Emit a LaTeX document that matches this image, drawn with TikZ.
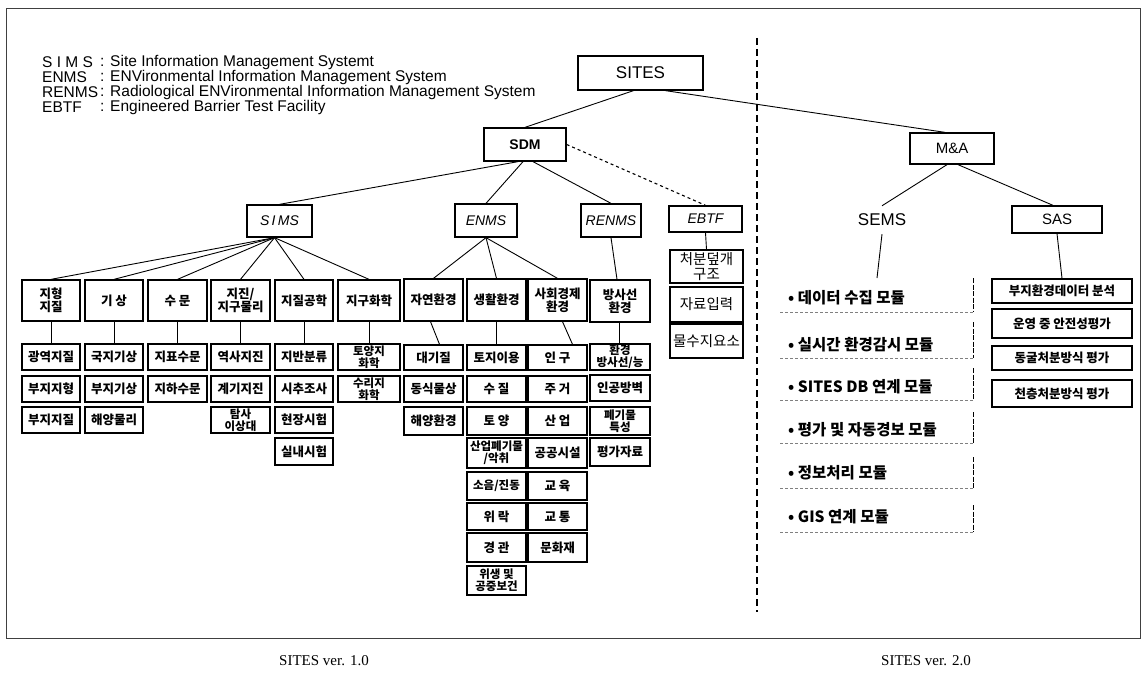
\documentclass[tikz,border=0pt]{standalone}
\usepackage{fontspec}
\setmainfont{Liberation Serif}
\setsansfont{Liberation Sans}
\newfontfamily\kr{Noto Sans CJK KR}
\newfontfamily\ls{Liberation Sans}
\newcommand\mybox[7][]{%
  \pgfmathsetmacro\mbw{#5-#3}%
  \pgfmathsetmacro\mbh{#6-#4}%
  \node[box,minimum width=\mbw pt,minimum height=\mbh pt,#1] (#2) at ({(#3+#5)/2},{(#4+#6)/2}) {#7};}
\begin{document}
\begin{tikzpicture}[x=1pt,y=-1pt,
  box/.style={draw,line width=1.3pt,inner sep=0pt,align=center,font=\kr\bfseries\fontsize{12.5}{13}\selectfont},
  tbox/.style={font=\kr\bfseries\fontsize{11.5}{12}\selectfont},
  lbox/.style={font=\ls\fontsize{15}{17}\selectfont},
  ibox/.style={font=\ls\itshape\fontsize{14}{16}\selectfont},
  rbox/.style={font=\kr\fontsize{14.5}{15}\selectfont},
  link/.style={line width=0.9pt},
  leg/.style={anchor=west,inner sep=0pt,font=\ls\fontsize{15.5}{16}\selectfont},
  item/.style={anchor=west,inner sep=0pt,font=\kr\bfseries\fontsize{15.5}{17}\selectfont},
  ul/.style={black!50,line width=0.7pt,dash pattern=on 3pt off 2pt},
  vl/.style={black,line width=0.8pt,dash pattern=on 5pt off 1.5pt}]
\useasboundingbox (0,0) rectangle (1148,674);
% frame and divider
\draw[line width=0.8pt,black!75] (6,8) rectangle (1140,638);
\draw[line width=1.3pt,dash pattern=on 7pt off 4pt] (757,38) -- (757,612);
% legend
\node[leg] (l1) at (42,62) {S I M S};
\node[leg] (t1) at (100,62) {: Site Information Management Systemt};
\node[leg] (l2) at (42,77) {ENMS};
\node[leg] (t2) at (100,77) {: ENVironmental Information Management System};
\node[leg] (l3) at (42,92) {RENMS};
\node[leg] (t3) at (100,92) {: Radiological ENVironmental Information Management System};
\node[leg] (l4) at (42,107) {EBTF};
\node[leg] (t4) at (100,107) {: Engineered Barrier Test Facility};
% top levels
\mybox[font=\ls\fontsize{17}{19}\selectfont]{sites}{578}{56}{703}{90}{SITES}
\mybox[font=\ls\bfseries\fontsize{14}{16}\selectfont]{sdm}{484}{128}{566}{161}{SDM}
\mybox[ibox]{sims}{247}{205}{312}{237}{S\,I\,MS}
\mybox[ibox]{enms}{455}{204}{517}{237}{ENMS}
\mybox[ibox]{renms}{581}{204}{641}{237}{RENMS}
\mybox[ibox]{ebtf}{669}{206}{742}{232}{EBTF}
\mybox[lbox]{ma}{910}{133}{994}{164}{M\&A}
\node[font=\ls\fontsize{17}{19}\selectfont,inner xsep=2pt,inner ysep=8pt] (sems) at (882,220) {SEMS};
\coordinate (semsend) at (877,278);
\mybox[lbox]{sas}{1012}{206}{1102}{233}{SAS}
% SIMS children
\mybox{s1}{22}{280}{80}{321}{지형\\지질}
\mybox{s2}{85}{280}{143}{321}{기 상}
\mybox{s3}{148}{280}{207}{321}{수 문}
\mybox{s4}{211}{280}{270}{321}{지진/\\지구물리}
\mybox{s5}{275}{280}{333}{321}{지질공학}
\mybox{s6}{338}{280}{400}{321}{지구화학}
\mybox{s1a}{22}{344}{80}{370}{광역지질}
\mybox{s1b}{22}{376}{80}{402}{부지지형}
\mybox{s1c}{22}{407}{80}{433}{부지지질}
\mybox{s2a}{85}{344}{143}{370}{국지기상}
\mybox{s2b}{85}{376}{143}{402}{부지기상}
\mybox{s2c}{85}{407}{143}{433}{해양물리}
\mybox{s3a}{148}{344}{207}{370}{지표수문}
\mybox{s3b}{148}{376}{207}{402}{지하수문}
\mybox{s4a}{211}{344}{270}{370}{역사지진}
\mybox{s4b}{211}{376}{270}{402}{계기지진}
\mybox[tbox]{s4c}{211}{407}{270}{433}{탐사\\이상대}
\mybox{s5a}{275}{344}{333}{370}{지반분류}
\mybox{s5b}{275}{376}{333}{402}{시추조사}
\mybox{s5c}{275}{407}{333}{433}{현장시험}
\mybox{s5d}{275}{438}{333}{465}{실내시험}
\mybox[tbox]{s6a}{338}{344}{400}{370}{토양지\\화학}
\mybox[tbox]{s6b}{338}{376}{400}{402}{수리지\\화학}
% ENMS children
\mybox{e1}{404}{279}{463}{321}{자연환경}
\mybox{e2}{467}{279}{526}{321}{생활환경}
\mybox{e3}{528}{279}{587}{321}{사회경제\\환경}
\mybox{e1a}{404}{345}{463}{370}{대기질}
\mybox{e1b}{404}{376}{463}{402}{동식물상}
\mybox{e1c}{404}{407}{463}{435}{해양환경}
\mybox{e2a}{467}{345}{526}{370}{토지이용}
\mybox{e2b}{467}{376}{526}{402}{수 질}
\mybox{e2c}{467}{407}{526}{435}{토 양}
\mybox[tbox]{e2d}{467}{438}{526}{468}{산업폐기물\\/악취}
\mybox[tbox]{e2e}{467}{472}{526}{500}{소음/진동}
\mybox{e2f}{467}{503}{526}{530}{위 락}
\mybox{e2g}{467}{533}{526}{562}{경 관}
\mybox[tbox]{e2h}{467}{566}{526}{595}{위생 및\\공중보건}
\mybox{e3a}{528}{345}{587}{370}{인 구}
\mybox{e3b}{528}{376}{587}{402}{주 거}
\mybox{e3c}{528}{407}{587}{435}{산 업}
\mybox{e3d}{528}{438}{587}{468}{공공시설}
\mybox{e3e}{528}{472}{587}{500}{교 육}
\mybox{e3f}{528}{503}{587}{530}{교 통}
\mybox{e3g}{528}{533}{587}{562}{문화재}
% RENMS children
\mybox{r0}{590}{280}{650}{322}{방사선\\환경}
\mybox[tbox]{r1}{590}{344}{650}{370}{환경\\방사선/능}
\mybox{r2}{590}{375}{650}{401}{인공방벽}
\mybox[tbox]{r3}{590}{407}{650}{435}{폐기물\\특성}
\mybox{r4}{590}{438}{650}{466}{평가자료}
% EBTF children
\mybox[rbox]{b1}{670}{250}{743}{283}{처분덮개\\구조}
\mybox[rbox]{b2}{670}{287}{743}{322}{자료입력}
\mybox[rbox]{b3}{670}{324}{743}{358}{물수지요소}
% SAS children
\mybox{sas1}{992}{279}{1132}{303}{부지환경데이터 분석}
\mybox{sas2}{992}{309}{1132}{338}{운영 중 안전성평가}
\mybox{sas3}{992}{346}{1132}{370}{동굴처분방식 평가}
\mybox{sas4}{992}{380}{1132}{407}{천층처분방식 평가}
% SEMS modules
\node[item] (m1) at (788,298) {• 데이터 수집 모듈};
\node[item] (m2) at (788,345) {• 실시간 환경감시 모듈};
\node[item] (m3) at (788,387) {• SITES DB 연계 모듈};
\node[item] (m4) at (788,430) {• 평가 및 자동경보 모듈};
\node[item] (m5) at (788,473) {• 정보처리 모듈};
\node[item] (m6) at (788,517) {• GIS 연계 모듈};
\foreach \yu/\yt in {312/278,358/322,400/368,443/412,488/457,532/505}{
  \draw[ul] (780,\yu) -- (973,\yu);
  \draw[vl] (973,\yt) -- (973,\yu);
}
% connectors
\draw[link] ([xshift=-7]sites.south) -- (sdm.north);
\draw[link] ([xshift=25]sites.south) -- ([xshift=-7]ma.north);
\draw[link] ([xshift=-7]sdm.south) -- (sims.north);
\draw[link] ([xshift=-2]sdm.south) -- (enms.north);
\draw[link] ([xshift=8]sdm.south) -- (renms.north);
\draw[link,dashed,line width=1.1pt] (sdm.east) -- (ebtf.north);
\foreach \c in {s1,s2,s3,s4,s5,s6}{\draw[link] ([xshift=-5]sims.south) -- (\c.north);}
\foreach \c in {e1,e2,e3}{\draw[link] (enms.south) -- (\c.north);}
\draw[link] (renms.south) -- ([xshift=-3]r0.north);
\draw[link] (ebtf.south) -- (b1.north);
\draw[link] ([xshift=-5]ma.south) -- (sems.north);
\draw[link] ([xshift=6]ma.south) -- ([xshift=-4]sas.north);
\draw[link] (sems.south) -- (semsend);
\draw[link] (sas.south) -- (sas1.north);
\foreach \c in {s1,s2,s3,s4,s5,s6,e2}{\draw[link] (\c.south) -- (\c a.north);}
\draw[link] ([xshift=-3]e1.south) -- ([xshift=6]e1a.north);
\draw[link] ([xshift=5]e3.south) -- ([xshift=15]e3a.north);
\draw[link] ([xshift=-1]r0.south) -- ([xshift=-1]r1.north);
% captions
\node[font=\fontsize{15}{17}\selectfont] (cap1) at (324,661) {SITES ver. 1.0};
\node[font=\fontsize{15}{17}\selectfont] (cap2) at (926,661) {SITES ver. 2.0};
\end{tikzpicture}
\end{document}
